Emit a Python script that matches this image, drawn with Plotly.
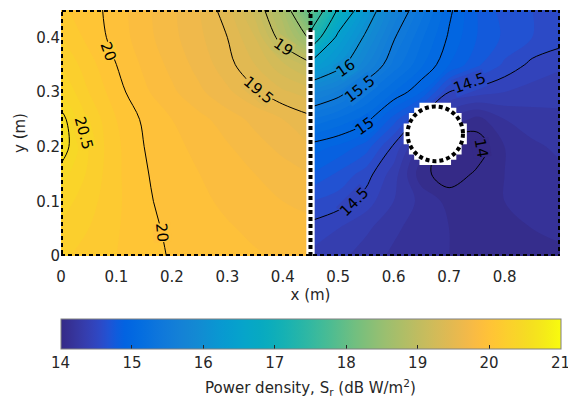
import math
import plotly.graph_objects as go

# ---------------- data ----------------
Y = [0.0, 0.05, 0.10, 0.15, 0.20, 0.25, 0.30, 0.35, 0.40, 0.45]

X_LEFT = [0.0, 0.05, 0.10, 0.15, 0.20, 0.25, 0.30, 0.35, 0.40, 0.45]
Z_LEFT = [
    [20.22, 20.16, 20.10, 20.04, 19.99, 19.96, 19.93, 19.91, 19.89, 19.87],
    [20.28, 20.20, 20.11, 20.03, 19.98, 19.94, 19.91, 19.88, 19.85, 19.83],
    [20.35, 20.24, 20.12, 20.02, 19.96, 19.92, 19.88, 19.84, 19.80, 19.77],
    [20.45, 20.28, 20.12, 20.01, 19.95, 19.90, 19.85, 19.80, 19.75, 19.70],
    [20.58, 20.30, 20.12, 20.00, 19.93, 19.87, 19.81, 19.74, 19.67, 19.60],
    [20.55, 20.28, 20.10, 19.98, 19.90, 19.83, 19.75, 19.67, 19.60, 19.53],
    [20.40, 20.20, 20.04, 19.92, 19.82, 19.72, 19.62, 19.52, 19.42, 19.35],
    [20.30, 20.14, 20.00, 19.88, 19.77, 19.66, 19.54, 19.40, 19.22, 19.05],
    [20.20, 20.07, 19.96, 19.84, 19.73, 19.62, 19.50, 19.30, 18.90, 18.45],
    [20.12, 20.05, 19.95, 19.83, 19.72, 19.60, 19.44, 19.15, 18.72, 17.90],
]

X_RIGHT = [0.45, 0.50, 0.55, 0.60, 0.65, 0.70, 0.75, 0.80, 0.85, 0.90]
Z_RIGHT = [
    [14.38, 14.33, 14.25, 14.18, 14.13, 14.10, 14.08, 14.07, 14.08, 14.09],
    [14.46, 14.40, 14.32, 14.22, 14.15, 14.10, 14.08, 14.08, 14.10, 14.11],
    [14.60, 14.55, 14.45, 14.30, 14.17, 14.07, 14.07, 14.10, 14.12, 14.14],
    [14.80, 14.68, 14.55, 14.35, 14.04, 13.93, 14.02, 14.10, 14.15, 14.18],
    [14.95, 14.88, 14.75, 14.48, 14.15, 13.90, 13.93, 14.10, 14.18, 14.22],
    [15.30, 15.18, 15.05, 14.75, 14.45, 14.20, 14.06, 14.20, 14.25, 14.28],
    [15.75, 15.58, 15.33, 15.10, 14.90, 14.50, 14.45, 14.40, 14.36, 14.33],
    [16.40, 16.10, 15.72, 15.37, 15.12, 14.90, 14.72, 14.58, 14.47, 14.42],
    [17.35, 16.40, 15.95, 15.52, 15.22, 14.98, 14.80, 14.68, 14.60, 14.55],
    [18.00, 16.95, 16.20, 15.70, 15.35, 15.03, 14.80, 14.65, 14.60, 14.55],
]

# contour labels shown in the reference: (text, x, y, angle)
CONTOUR_LABELS = [
    ("20", 0.086, 0.374, 70),
    ("20", 0.182, 0.042, 85),
    ("20.5", 0.041, 0.225, 75),
    ("19.5", 0.356, 0.304, 40),
    ("19", 0.401, 0.383, 35),
    ("16", 0.514, 0.344, -35),
    ("15.5", 0.539, 0.306, -38),
    ("15", 0.548, 0.238, -35),
    ("14.5", 0.529, 0.098, -45),
    ("14.5", 0.737, 0.316, -20),
    ("14", 0.758, 0.198, 80),
]

X_TICKS = [0, 0.1, 0.2, 0.3, 0.4, 0.5, 0.6, 0.7, 0.8]
X_TICK_TEXT = ["0", "0.1", "0.2", "0.3", "0.4", "0.5", "0.6", "0.7", "0.8"]
Y_TICKS = [0, 0.1, 0.2, 0.3, 0.4]
Y_TICK_TEXT = ["0", "0.1", "0.2", "0.3", "0.4"]
CBAR_TICKS = [14, 15, 16, 17, 18, 19, 20, 21]
CBAR_TITLE = "Power density, S<sub>r</sub> (dB W/m<sup>2</sup>)"

# geometry of the scene
WALL_X = 0.45
WALL_TOP = 0.413
OBST_CX, OBST_CY, OBST_R = 0.675, 0.2235, 0.05

# ---------------- style ----------------
PARULA_RGB = [
    [0.2081, 0.1663, 0.5292], [0.2116, 0.1898, 0.5777], [0.2123, 0.2138, 0.6270],
    [0.2081, 0.2386, 0.6771], [0.1959, 0.2645, 0.7279], [0.1707, 0.2919, 0.7792],
    [0.1253, 0.3242, 0.8303], [0.0591, 0.3598, 0.8683], [0.0117, 0.3875, 0.8820],
    [0.0060, 0.4086, 0.8828], [0.0165, 0.4266, 0.8786], [0.0329, 0.4430, 0.8720],
    [0.0498, 0.4586, 0.8641], [0.0629, 0.4737, 0.8554], [0.0723, 0.4887, 0.8467],
    [0.0779, 0.5040, 0.8384], [0.0793, 0.5200, 0.8312], [0.0749, 0.5375, 0.8263],
    [0.0641, 0.5570, 0.8240], [0.0488, 0.5772, 0.8228], [0.0343, 0.5966, 0.8199],
    [0.0265, 0.6137, 0.8135], [0.0239, 0.6287, 0.8038], [0.0231, 0.6418, 0.7913],
    [0.0228, 0.6535, 0.7768], [0.0267, 0.6642, 0.7607], [0.0384, 0.6743, 0.7436],
    [0.0590, 0.6838, 0.7254], [0.0843, 0.6928, 0.7062], [0.1133, 0.7015, 0.6859],
    [0.1453, 0.7098, 0.6646], [0.1801, 0.7177, 0.6424], [0.2178, 0.7250, 0.6193],
    [0.2586, 0.7317, 0.5954], [0.3022, 0.7376, 0.5712], [0.3482, 0.7424, 0.5473],
    [0.3953, 0.7459, 0.5244], [0.4420, 0.7481, 0.5033], [0.4871, 0.7491, 0.4840],
    [0.5300, 0.7491, 0.4661], [0.5709, 0.7485, 0.4494], [0.6099, 0.7473, 0.4337],
    [0.6473, 0.7456, 0.4188], [0.6834, 0.7435, 0.4044], [0.7184, 0.7411, 0.3905],
    [0.7525, 0.7384, 0.3768], [0.7858, 0.7356, 0.3633], [0.8185, 0.7327, 0.3498],
    [0.8507, 0.7299, 0.3360], [0.8824, 0.7274, 0.3217], [0.9139, 0.7258, 0.3063],
    [0.9450, 0.7261, 0.2886], [0.9739, 0.7314, 0.2666], [0.9938, 0.7455, 0.2403],
    [0.9990, 0.7653, 0.2164], [0.9955, 0.7861, 0.1967], [0.9880, 0.8066, 0.1794],
    [0.9789, 0.8271, 0.1633], [0.9697, 0.8481, 0.1475], [0.9626, 0.8705, 0.1309],
    [0.9589, 0.8949, 0.1132], [0.9598, 0.9218, 0.0948], [0.9661, 0.9514, 0.0755],
    [0.9763, 0.9831, 0.0538],
]
NC = len(PARULA_RGB)
PARULA = [[i / (NC - 1), "rgb(%d,%d,%d)" % tuple(round(c * 255) for c in rgb)]
          for i, rgb in enumerate(PARULA_RGB)]

FONT = "DejaVu Sans"
TXT = "#262626"
ZMIN, ZMAX = 14, 21
STEP = 0.1


def parula_at(v):
    t = min(max((v - ZMIN) / (ZMAX - ZMIN), 0.0), 1.0) * (NC - 1)
    i = min(int(t), NC - 2)
    f = t - i
    c = [PARULA_RGB[i][k] * (1 - f) + PARULA_RGB[i + 1][k] * f for k in range(3)]
    return "rgb(%d,%d,%d)" % tuple(round(255 * ck) for ck in c)


def field_at(x, y):
    xs, zs = (X_LEFT, Z_LEFT) if x <= WALL_X else (X_RIGHT, Z_RIGHT)
    i = min(max(int((x - xs[0]) / (xs[1] - xs[0])), 0), len(xs) - 2)
    j = min(max(int((y - Y[0]) / (Y[1] - Y[0])), 0), len(Y) - 2)
    fx = (x - xs[i]) / (xs[i + 1] - xs[i])
    fy = (y - Y[j]) / (Y[j + 1] - Y[j])
    return (zs[j][i] * (1 - fx) * (1 - fy) + zs[j][i + 1] * fx * (1 - fy)
            + zs[j + 1][i] * (1 - fx) * fy + zs[j + 1][i + 1] * fx * fy)


fig = go.Figure()

for xs, zs in ((X_LEFT, Z_LEFT), (X_RIGHT, Z_RIGHT)):
    fig.add_trace(go.Contour(
        x=xs, y=Y, z=zs, colorscale=PARULA, zmin=ZMIN, zmax=ZMAX,
        autocontour=False,
        contours=dict(coloring="fill", start=13.0, end=21.0, size=STEP, showlines=False),
        line=dict(width=0), showscale=False, hoverinfo="skip",
    ))

for xs, zs in ((X_LEFT, Z_LEFT), (X_RIGHT, Z_RIGHT)):
    fig.add_trace(go.Contour(
        x=xs, y=Y, z=zs, autocontour=False,
        contours=dict(coloring="none", start=14.0, end=21.0, size=0.5, showlabels=False),
        line=dict(color="black", width=1, smoothing=1.0),
        showscale=False, hoverinfo="skip",
    ))

# dummy trace carrying the colorbar
fig.add_trace(go.Scatter(
    x=[-1, -1], y=[-1, -1], mode="markers", hoverinfo="skip", showlegend=False,
    marker=dict(color=[ZMIN, ZMAX], colorscale=PARULA, cmin=ZMIN, cmax=ZMAX, size=1,
                opacity=0, showscale=True,
                colorbar=dict(
                    orientation="h", x=0.5, xanchor="center", xpad=0, ypad=0,
                    y=-0.2576, yanchor="top", len=500, lenmode="pixels",
                    thickness=30, thicknessmode="pixels",
                    tickvals=CBAR_TICKS, ticks="inside", ticklen=4, tickcolor=TXT,
                    ticklabeloverflow="allow",
                    tickfont=dict(family=FONT, size=15, color=TXT),
                    outlinecolor="#808080", outlinewidth=1,
                ))))

annotations = []
for text, lx, ly, ang in CONTOUR_LABELS:
    zloc = field_at(lx, ly)
    band = math.floor(zloc / STEP) * STEP + STEP / 2
    annotations.append(dict(
        x=lx, y=ly, xref="x", yref="y", text=text, showarrow=False, textangle=ang,
        font=dict(family=FONT, size=15, color="black"),
        bgcolor=parula_at(band), borderpad=0, borderwidth=0,
    ))
# colorbar title
annotations.append(dict(
    x=0.5, y=-0.5335, xref="paper", yref="paper", text=CBAR_TITLE, showarrow=False,
    xanchor="center", yanchor="middle", font=dict(family=FONT, size=15, color=TXT),
))

shapes = []
# pixelated white mask of the obstacle (staircase outline)
cell = 0.0095
rr = OBST_R + 0.0045
rows = []
for k in range(-6, 6):
    y0 = OBST_CY + k * cell
    y1 = y0 + cell
    dy = 0.0 if y0 <= OBST_CY <= y1 else min(abs(y0 - OBST_CY), abs(y1 - OBST_CY))
    if dy >= rr:
        continue
    hw = math.ceil(math.sqrt(rr ** 2 - dy ** 2) / cell - 0.4) * cell
    rows.append((y0, y1, hw))
pts = []
for y0, y1, hw in rows:
    pts += [(OBST_CX + hw, y0), (OBST_CX + hw, y1)]
for y0, y1, hw in reversed(rows):
    pts += [(OBST_CX - hw, y1), (OBST_CX - hw, y0)]
path = "M " + " L ".join("%.5f,%.5f" % p for p in pts) + " Z"
shapes.append(dict(type="path", xref="x", yref="y", path=path, fillcolor="white",
                   line=dict(width=0), layer="above"))
# white wall
shapes.append(dict(type="rect", xref="x", yref="y", x0=WALL_X - 0.0075, x1=WALL_X + 0.0075,
                   y0=0, y1=WALL_TOP, fillcolor="white", line=dict(width=0), layer="above"))
DOT = dict(color="black", width=4, dash="4px,3px")
shapes.append(dict(type="line", xref="x", yref="y", x0=WALL_X, x1=WALL_X, y0=0, y1=0.45,
                   line=DOT, layer="above"))
shapes.append(dict(type="circle", xref="x", yref="y",
                   x0=OBST_CX - OBST_R, x1=OBST_CX + OBST_R,
                   y0=OBST_CY - OBST_R, y1=OBST_CY + OBST_R, line=DOT, layer="above"))
shapes.append(dict(type="rect", xref="x", yref="y", x0=0, x1=0.9, y0=0, y1=0.45,
                   line=DOT, layer="above"))

fig.update_layout(
    width=568, height=401,
    margin=dict(l=60.5, r=7.5, t=10, b=144.5, autoexpand=False),
    paper_bgcolor="white", plot_bgcolor="white",
    font=dict(family=FONT, size=15, color=TXT),
    shapes=shapes, annotations=annotations, showlegend=False,
    xaxis=dict(range=[0, 0.9], tickvals=X_TICKS, ticktext=X_TICK_TEXT, showgrid=False,
               zeroline=False, showline=False, ticks="outside", ticklen=7,
               tickcolor="rgba(0,0,0,0)",
               title=dict(text="x (m)", standoff=4, font=dict(family=FONT, size=15, color=TXT)),
               tickfont=dict(family=FONT, size=15, color=TXT)),
    yaxis=dict(range=[0, 0.45], tickvals=Y_TICKS, ticktext=Y_TICK_TEXT, showgrid=False,
               zeroline=False, showline=False, ticks="",
               title=dict(text="y (m)", standoff=6, font=dict(family=FONT, size=15, color=TXT)),
               tickfont=dict(family=FONT, size=15, color=TXT)),
)

# remove the default page margin so the 568x401 figure fills the window exactly
fig.write_html(
    "out.html",
    config={"displayModeBar": False},
    post_script="document.body.style.margin='0';document.body.style.overflow='hidden';",
)
